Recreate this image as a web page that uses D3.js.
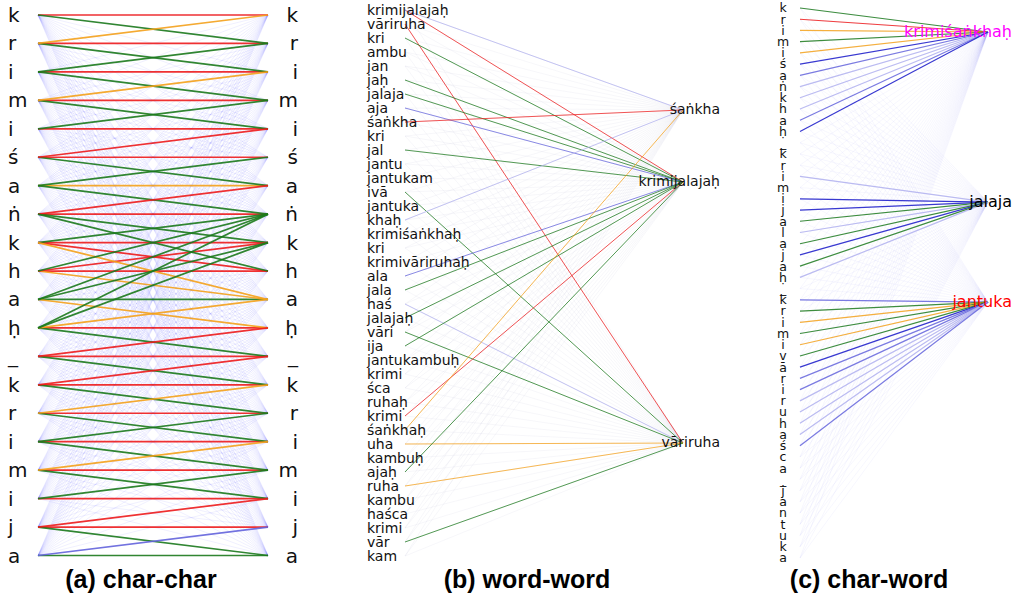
<!DOCTYPE html>
<html>
<head>
<meta charset="utf-8">
<script src="https://cdn.jsdelivr.net/npm/d3@7"></script>
<style>
  body { margin: 0; background: #fff; }
  text { font-family: "DejaVu Sans", sans-serif; }
  .title { font-family: "Liberation Sans", Arial, sans-serif; font-weight: bold; }
</style>
</head>
<body>
<svg id="chart" width="1016" height="599"></svg>
<script>
// (a) char-char: characters of the sentence, both sides
const charsA = ["k","r","i","m","i","ś","a","ṅ","k","h","a","ḥ","_","k","r","i","m","i","j","a"];
// strong links: [left row, right row, colour key]
const edgesA = [
  [0,0,"r"],[1,1,"r"],[2,2,"r"],[3,3,"r"],[4,4,"r"],[5,5,"r"],[6,6,"o"],[7,7,"r"],[8,8,"r"],[9,9,"r"],
  [10,10,"g"],[11,11,"r"],[12,12,"r"],[13,13,"r"],[14,14,"r"],[15,15,"r"],[16,16,"r"],[17,17,"r"],[18,18,"r"],[19,19,"g"],
  [0,1,"g"],[1,2,"g"],[2,3,"g"],[3,4,"g"],[5,6,"g"],[6,7,"g"],[7,8,"g"],[8,9,"r"],[9,10,"o"],[10,11,"o"],
  [11,12,"g"],[12,13,"g"],[13,14,"g"],[14,15,"g"],[15,16,"g"],[16,17,"g"],[18,19,"g"],
  [1,0,"o"],[2,1,"g"],[3,2,"o"],[4,3,"g"],[5,4,"r"],[6,5,"g"],[7,6,"r"],[8,7,"g"],[9,8,"r"],[11,10,"o"],
  [12,11,"r"],[13,12,"r"],[14,13,"o"],[15,14,"g"],[16,15,"o"],[17,16,"g"],[18,17,"r"],[19,18,"m"],
  [7,9,"g"],[8,10,"o"],[9,7,"g"],[10,7,"g"],[10,8,"g"],[11,7,"g"],[11,8,"g"]
];

// (b) word-word: candidate words and the three chosen words
const wordsB = ["krimijalajaḥ","vāriruha","kri","ambu","jan","jaḥ","jalaja","aja","śaṅkha","kri",
  "jal","jantu","jantukam","ivā","jantuka","khaḥ","krimiśaṅkhaḥ","kri","krimivāriruhaḥ","ala",
  "jala","haś","jalajaḥ","vāri","ija","jantukambuḥ","krimi","śca","ruhaḥ","krimi",
  "śaṅkhaḥ","uha","kambuḥ","ajaḥ","ruha","kambu","haśca","krimi","vār","kam"];
const targetsB = ["śaṅkha","krimijalajaḥ","vāriruha"];
const targetSlotB = [7.14, 12.29, 30.93];   // in units of the word list rows
const edgesB = [
  [0,1,"r"],[0,0,"l"],[1,2,"r"],[2,1,"g"],[5,1,"g"],[6,1,"g"],[7,1,"m"],[8,0,"r"],[10,1,"g"],
  [13,2,"g"],[15,0,"l"],[19,1,"m"],[20,1,"g"],[21,2,"l"],[22,1,"g"],[23,2,"g"],[24,1,"g"],
  [29,1,"r"],[30,0,"o"],[31,2,"o"],[33,1,"g"],[34,2,"o"],[38,2,"g"]
];

// (c) char-word
const charsC = ["k","r","i","m","i","ś","a","ṅ","k","h","a","ḥ","_",
  "k","r","i","m","i","j","a","l","a","j","a","ḥ","_",
  "k","r","i","m","i","v","ā","r","i","r","u","h","a","ś","c","a","_",
  "j","a","n","t","u","k","a"];
const targetsC = ["krimiśaṅkhaḥ","jalaja","jantuka"];
const targetColorC = ["#ff00ff","#000000","#ff0000"];
const targetSlotC = [2.14, 17.29, 26.2];
const edgesC = [
  [0,0,"g"],[1,0,"r"],[2,0,"o"],[3,0,"g"],[4,0,"o"],[5,0,"b"],[6,0,"m"],[7,0,"l"],[8,0,"l"],[9,0,"l"],[10,0,"m"],[11,0,"b"],
  [15,1,"l"],[17,1,"b"],[18,1,"b"],[19,1,"g"],[20,1,"l"],[21,1,"g"],[22,1,"b"],[23,1,"g"],[24,1,"l"],
  [26,2,"m"],[27,2,"g"],[28,2,"o"],[29,2,"g"],[30,2,"o"],[31,2,"g"],[32,2,"b"],[33,2,"m"],[34,2,"m"],
  [35,2,"l"],[36,2,"l"],[37,2,"l"],[38,2,"l"],[39,2,"m"]
];

const titles = ["(a) char-char", "(b) word-word", "(c) char-word"];

const colour = { r: "#ee1c1c", g: "#1c7a1c", o: "#f5a21b", b: "#1616c8", m: "#6464dc", l: "#b0b0ee" };

const svg = d3.select("#chart");

// ---------- (a) ----------
const gA = svg.append("g");
const yA = d3.scaleLinear().domain([0, charsA.length - 1]).range([15, 555.5]);
const xA = d3.scaleLinear().domain([0, 1]).range([38, 268]);

const allA = d3.cross(d3.range(charsA.length), d3.range(charsA.length));
gA.selectAll("line.bg").data(allA).join("line")
    .attr("x1", xA(0)).attr("x2", xA(1))
    .attr("y1", d => yA(d[0])).attr("y2", d => yA(d[1]))
    .attr("stroke", "#5a5aff").attr("stroke-opacity", 0.09).attr("stroke-width", 1);

gA.selectAll("line.fg").data(edgesA).join("line")
    .attr("x1", xA(0)).attr("x2", xA(1))
    .attr("y1", d => yA(d[0])).attr("y2", d => yA(d[1]))
    .attr("stroke", d => colour[d[2]]).attr("stroke-width", 1.7).attr("stroke-opacity", 0.9);

gA.selectAll("text.l").data(charsA).join("text")
    .attr("x", 8).attr("y", (d, i) => yA(i)).attr("dy", "0.35em")
    .attr("font-size", 20).attr("fill", "#111").text(d => d);
gA.selectAll("text.r").data(charsA).join("text")
    .attr("x", 298).attr("y", (d, i) => yA(i)).attr("dy", "0.35em")
    .attr("text-anchor", "end")
    .attr("font-size", 20).attr("fill", "#111").text(d => d);

// ---------- (b) ----------
const gB = svg.append("g");
const yB = d3.scaleLinear().domain([0, wordsB.length - 1]).range([10, 556]);
const xB = d3.scaleLinear().domain([0, 1]).range([405, 683]);

const allB = d3.cross(d3.range(wordsB.length), d3.range(targetsB.length));
gB.selectAll("line.bg").data(allB).join("line")
    .attr("x1", xB(0)).attr("x2", xB(1))
    .attr("y1", d => yB(d[0])).attr("y2", d => yB(targetSlotB[d[1]]))
    .attr("stroke", "#8888bb").attr("stroke-opacity", 0.07).attr("stroke-width", 1);

gB.selectAll("line.fg").data(edgesB).join("line")
    .attr("x1", xB(0)).attr("x2", xB(1))
    .attr("y1", d => yB(d[0])).attr("y2", d => yB(targetSlotB[d[1]]))
    .attr("stroke", d => colour[d[2]]).attr("stroke-width", 1).attr("stroke-opacity", 0.75);

gB.selectAll("text.w").data(wordsB).join("text")
    .attr("x", 367).attr("y", (d, i) => yB(i)).attr("dy", "0.35em")
    .attr("font-size", 14).attr("fill", "#111").text(d => d);
gB.selectAll("text.t").data(targetsB).join("text")
    .attr("x", 720).attr("y", (d, i) => yB(targetSlotB[i])).attr("dy", "0.3em")
    .attr("text-anchor", "end")
    .attr("font-size", 14).attr("fill", "#111").text(d => d);

// ---------- (c) ----------
const gC = svg.append("g");
const yC = d3.scaleLinear().domain([0, charsC.length - 1]).range([8, 558]);
const xC = d3.scaleLinear().domain([0, 1]).range([800, 988]);

const allC = d3.cross(d3.range(charsC.length), d3.range(targetsC.length));
gC.selectAll("line.bg").data(allC).join("line")
    .attr("x1", xC(0)).attr("x2", xC(1))
    .attr("y1", d => yC(d[0])).attr("y2", d => yC(targetSlotC[d[1]]))
    .attr("stroke", "#7070ee").attr("stroke-opacity", 0.06).attr("stroke-width", 1);

gC.selectAll("line.fg").data(edgesC).join("line")
    .attr("x1", xC(0)).attr("x2", xC(1))
    .attr("y1", d => yC(d[0])).attr("y2", d => yC(targetSlotC[d[1]]))
    .attr("stroke", d => colour[d[2]]).attr("stroke-width", 1.2).attr("stroke-opacity", 0.85);

gC.selectAll("text.c").data(charsC).join("text")
    .attr("x", 783).attr("y", (d, i) => yC(i)).attr("dy", "0.35em")
    .attr("text-anchor", "middle")
    .attr("font-size", 12.5).attr("fill", "#111").text(d => d);
gC.selectAll("text.t").data(targetsC).join("text")
    .attr("x", 1012).attr("y", (d, i) => yC(targetSlotC[i])).attr("dy", "0.3em")
    .attr("text-anchor", "end")
    .attr("font-size", 16).attr("fill", (d, i) => targetColorC[i]).text(d => d);

// ---------- titles ----------
svg.selectAll("text.title").data(titles).join("text")
    .attr("class", "title")
    .attr("x", (d, i) => [141, 527, 869][i]).attr("y", 588)
    .attr("text-anchor", "middle")
    .attr("font-size", 25).attr("fill", "#000").text(d => d);
</script>
</body>
</html>
